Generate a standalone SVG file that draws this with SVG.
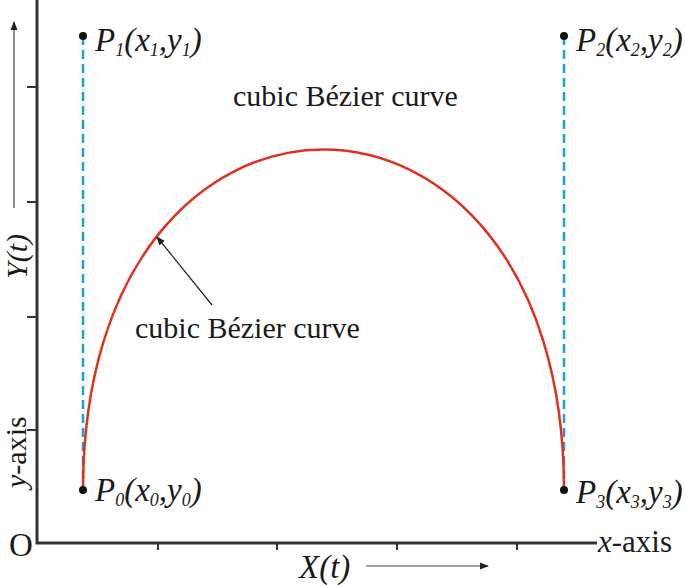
<svg xmlns="http://www.w3.org/2000/svg" width="685" height="585" viewBox="0 0 685 585">
<style>
.t{font-family:"Liberation Serif","Times New Roman",serif;fill:#1a1a1a}
.i{font-style:italic}
.ax{stroke:#333;stroke-width:3;fill:none}
.tk{stroke:#333;stroke-width:2;fill:none}
.dash{stroke:#1ba1d8;stroke-width:2.5;stroke-dasharray:9 5;fill:none}
.ar{stroke:#444;stroke-width:1.2;fill:none}
.s{font-size:18px}
</style>
<defs>
<marker id="ah" viewBox="0 0 10 10" refX="9" refY="5" markerWidth="9" markerHeight="9" markerUnits="userSpaceOnUse" orient="auto">
<path d="M0,1 L10,5 L0,9 Z" fill="#222"/>
</marker>
</defs>
<rect width="685" height="585" fill="#fff"/>
<g id="axes">
<path class="ax" d="M37,0 V543 H597"/>
<path class="tk" d="M27,87 H37 M27,202 H37 M27,317 H37 M27,430 H37"/>
<path class="tk" d="M158,543 V550 M277,543 V550 M397,543 V550 M517,543 V550"/>
<text class="t" x="9" y="556" font-size="33">O</text>
<text class="t" x="598" y="552" font-size="31"><tspan class="i">x</tspan>-axis</text>
<text class="t" transform="translate(26,488) rotate(-90)" font-size="30"><tspan class="i">y</tspan>-axis</text>
<text class="t i" transform="translate(27,279) rotate(-90)" font-size="30">Y(t)</text>
<text class="t i" x="299" y="578" font-size="33">X(t)</text>
</g>
<g id="connectors">
<path class="dash" d="M83,36 V490"/>
<path class="dash" d="M564,36 V490"/>
<path id="curve" d="M83,490 C83,36 564,36 564,490" stroke="#e0301e" stroke-width="2.5" fill="none"/>
<line class="ar" x1="14" y1="208" x2="14" y2="22" marker-end="url(#ah)"/>
<line class="ar" x1="366" y1="566" x2="488" y2="566" marker-end="url(#ah)"/>
<line x1="212" y1="305" x2="157" y2="237" stroke="#222" stroke-width="1.2" marker-end="url(#ah)"/>
</g>
<g id="P1">
<circle cx="83" cy="36" r="4" fill="#111"/>
<text class="t i" x="95" y="51" font-size="33">P<tspan class="s" dy="5">1</tspan><tspan dy="-5">(x</tspan><tspan class="s" dy="5">1</tspan><tspan dy="-5">,y</tspan><tspan class="s" dy="5">1</tspan><tspan dy="-5">)</tspan></text>
</g>
<g id="P2">
<circle cx="564" cy="36" r="4" fill="#111"/>
<text class="t i" x="576" y="51" font-size="33">P<tspan class="s" dy="5">2</tspan><tspan dy="-5">(x</tspan><tspan class="s" dy="5">2</tspan><tspan dy="-5">,y</tspan><tspan class="s" dy="5">2</tspan><tspan dy="-5">)</tspan></text>
</g>
<g id="P0">
<circle cx="83" cy="490" r="4" fill="#111"/>
<text class="t i" x="95" y="501" font-size="33">P<tspan class="s" dy="5">0</tspan><tspan dy="-5">(x</tspan><tspan class="s" dy="5">0</tspan><tspan dy="-5">,y</tspan><tspan class="s" dy="5">0</tspan><tspan dy="-5">)</tspan></text>
</g>
<g id="P3">
<circle cx="564" cy="490" r="4" fill="#111"/>
<text class="t i" x="576" y="503" font-size="33">P<tspan class="s" dy="5">3</tspan><tspan dy="-5">(x</tspan><tspan class="s" dy="5">3</tspan><tspan dy="-5">,y</tspan><tspan class="s" dy="5">3</tspan><tspan dy="-5">)</tspan></text>
</g>
<g id="labels">
<text class="t" x="233" y="106" font-size="30">cubic Bézier curve</text>
<text class="t" x="135" y="338" font-size="30">cubic Bézier curve</text>
</g>
</svg>
